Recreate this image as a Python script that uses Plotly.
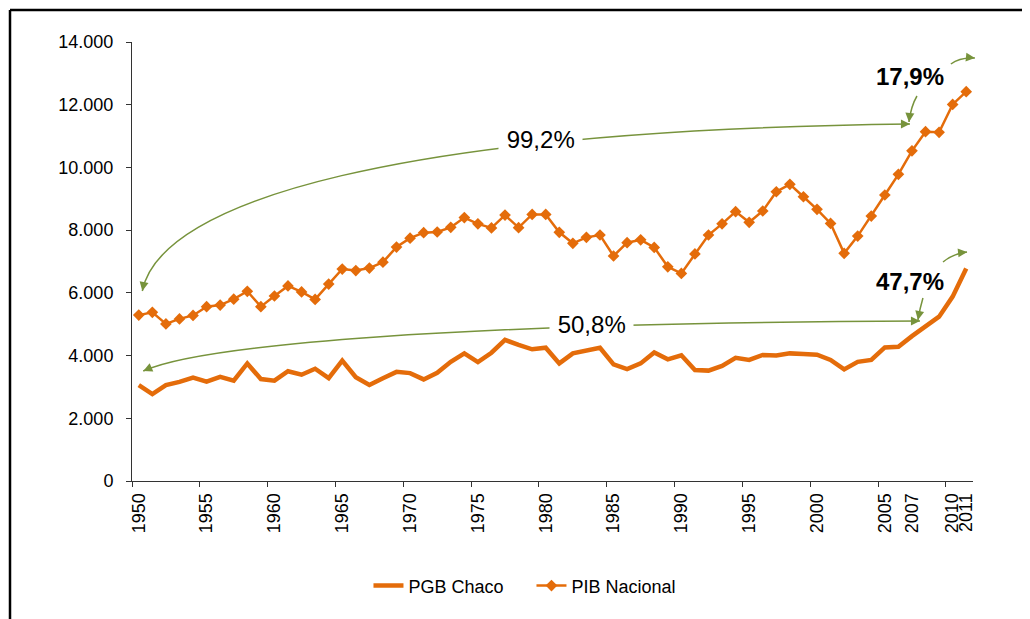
import plotly.graph_objects as go

# Datos (miles de pesos constantes)
anios = list(range(1950, 2012))

pgb_chaco = [
    3060, 2770, 3060, 3160, 3300, 3170, 3320, 3200, 3750, 3250,
    3200, 3500, 3390, 3580, 3280, 3840, 3310, 3060, 3280, 3480,
    3440, 3240, 3450, 3800, 4070, 3790, 4090, 4500, 4340, 4200,
    4250, 3750, 4070, 4160, 4250, 3720, 3570, 3750, 4100, 3880,
    4010, 3540, 3520, 3670, 3930, 3860, 4020, 4000, 4070, 4050,
    4030, 3860, 3560, 3800, 3860, 4260, 4280, 4620, 4920, 5240,
    5880, 6780,
]

pib_nacional = [
    5290, 5380, 5010, 5170, 5280, 5560, 5610, 5800, 6050, 5560,
    5900, 6220, 6030, 5790, 6280, 6760, 6710, 6790, 6980, 7460,
    7745, 7920, 7940, 8090, 8400, 8200, 8070, 8480, 8080, 8500,
    8500, 7930, 7580, 7770, 7845, 7175, 7600, 7690, 7450, 6830,
    6620, 7240, 7845, 8200, 8590, 8250, 8610, 9225, 9460, 9065,
    8665, 8215, 7260, 7810, 8450, 9120, 9780, 10530, 11140, 11120,
    12010, 12415,
]

ticks_x = [1950, 1955, 1960, 1965, 1970, 1975, 1980, 1985, 1990, 1995,
           2000, 2005, 2007, 2010, 2011]

NARANJA = "#E46C0A"
VERDE = "#77933C"
FUENTE = "Liberation Sans, Arial, sans-serif"

X_MIN, X_MAX = 1949.5, 2011.5
Y_MAX = 14000

# la página agrega 8px de margen al body
ANCHO, ALTO = 1022, 611
M_IZQ, M_DER, M_SUP, M_INF = 124, 57, 34, 138
ANCHO_PLOT = ANCHO - M_IZQ - M_DER
ALTO_PLOT = ALTO - M_SUP - M_INF


def px(anio):
    return (anio - X_MIN) / (X_MAX - X_MIN)


def py(valor):
    return valor / Y_MAX


fig = go.Figure()

fig.add_trace(go.Scatter(
    x=anios, y=pgb_chaco, mode="lines", name="PGB Chaco",
    line=dict(color=NARANJA, width=4.5),
))

fig.add_trace(go.Scatter(
    x=anios, y=pib_nacional, mode="lines+markers", name="PIB Nacional",
    line=dict(color=NARANJA, width=2.5),
    marker=dict(symbol="diamond", size=9, color=NARANJA),
))

# Flechas curvas (en unidades de datos: año, valor)
flechas = [
    ("C", [(1950.26, 6059), (1951.59, 8961), (1969.27, 11193), (2006.85, 11385)]),
    ("C", [(1950.33, 3508), (1954.53, 4337), (1972.95, 5039), (2007.59, 5102)]),
    ("Q", [(2007.37, 12278), (2006.93, 11959), (2006.78, 11449)]),
    ("Q", [(2009.87, 13298), (2010.54, 13521), (2011.64, 13489)]),
    ("Q", [(2007.81, 5836), (2007.59, 5517), (2007.44, 5134)]),
    ("Q", [(2009.29, 6984), (2009.96, 7239), (2011.06, 7303)]),
]

for tipo, pts in flechas:
    p = [f"{px(a):.5f},{py(v):.5f}" for a, v in pts]
    path = f"M {p[0]} {tipo} " + " ".join(p[1:])
    fig.add_shape(type="path", path=path, xref="paper", yref="paper",
                  line=dict(color=VERDE, width=1.5))

# puntas de flecha: (año, valor, ax, ay)
puntas = [
    (1950.26, 6059, 2, -10),
    (2006.85, 11385, -10, 0),
    (1950.33, 3508, 9, -4),
    (2007.59, 5102, -10, 0),
    (2006.78, 11449, 1, -10),
    (2011.64, 13489, -10, -1),
    (2007.44, 5134, 2, -10),
    (2011.06, 7303, -10, 1),
]

for a, v, ax, ay in puntas:
    fig.add_annotation(x=px(a), y=py(v), xref="paper", yref="paper",
                       ax=ax, ay=ay, text="", showarrow=True,
                       arrowhead=2, arrowsize=1.2, arrowwidth=1.5,
                       arrowcolor=VERDE, standoff=0)

# Textos de variación
textos = [
    ("99,2%", 1979.6, 10906, False),
    ("50,8%", 1983.4, 4975, False),
    ("17,9%", 2006.85, 12915, True),
    ("47,7%", 2006.85, 6378, True),
]

for txt, a, v, negrita in textos:
    fig.add_annotation(
        x=px(a), y=py(v), xref="paper", yref="paper",
        xanchor="center", yanchor="middle",
        text=f"<b>{txt}</b>" if negrita else f"&nbsp;{txt}&nbsp;",
        showarrow=False,
        font=dict(family=FUENTE, size=24, color="black"),
        bgcolor=None if negrita else "white",
    )

# Marco exterior (a 2px del borde de la figura)
bx = (2 - M_IZQ) / ANCHO_PLOT
by = 1 + (M_SUP - 2) / ALTO_PLOT
fig.add_shape(type="line", xref="paper", yref="paper",
              x0=bx, x1=1.2, y0=by, y1=by,
              line=dict(color="black", width=2.5))
fig.add_shape(type="line", xref="paper", yref="paper",
              x0=bx, x1=bx, y0=by, y1=-0.4,
              line=dict(color="black", width=2.5))

fig.update_layout(
    width=ANCHO, height=ALTO,
    margin=dict(l=M_IZQ, r=M_DER, t=M_SUP, b=M_INF),
    paper_bgcolor="white", plot_bgcolor="white",
    separators=",.",
    font=dict(family=FUENTE, size=17, color="black"),
    legend=dict(orientation="h", x=0.475, y=-0.239,
                xanchor="center", yanchor="middle",
                entrywidth=118, entrywidthmode="pixels",
                font=dict(family=FUENTE, size=18)),
    xaxis=dict(
        range=[X_MIN, X_MAX],
        tickmode="array", tickvals=ticks_x,
        ticktext=[str(t) for t in ticks_x],
        tickangle=-90, ticks="", ticklabelstandoff=4,
        showgrid=False, zeroline=False,
        showline=True, linecolor="#333", linewidth=1,
        tickfont=dict(size=18),
        minor=dict(tick0=X_MIN, dtick=5, ticks="outside", ticklen=5,
                   tickcolor="#333", showgrid=False),
    ),
    yaxis=dict(
        range=[0, Y_MAX], dtick=2000, tickformat=",d",
        ticks="outside", ticklen=5, tickcolor="#333",
        ticklabelstandoff=9,
        showgrid=False, zeroline=False,
        showline=True, linecolor="#333", linewidth=1,
        tickfont=dict(size=18),
    ),
)

fig.write_html("out.html")
